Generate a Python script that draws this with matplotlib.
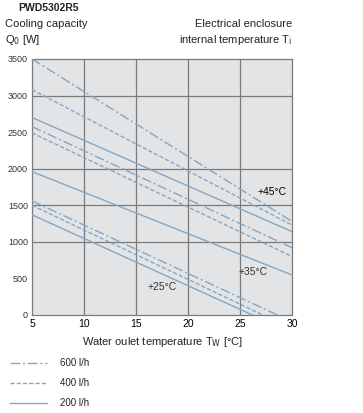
import matplotlib
matplotlib.use("Agg")
import matplotlib.pyplot as plt
import numpy as np

plt.rcParams['font.family'] = ['Liberation Sans', 'DejaVu Sans']

# Data: water outlet temperature (x) and cooling capacity (W) at endpoints
series_45 = {
    "600 l/h": ([5, 30], [3500, 1280]),
    "400 l/h": ([5, 30], [3080, 1230]),
    "200 l/h": ([5, 30], [2700, 1140]),
}
series_35 = {
    "600 l/h": ([5, 30], [2576, 920]),
    "400 l/h": ([5, 30], [2490, 800]),
    "200 l/h": ([5, 30], [1960, 547]),
}
series_25 = {
    "600 l/h": ([5, 28.6], [1560, 0]),
    "400 l/h": ([5, 27.2], [1500, 0]),
    "200 l/h": ([5, 26.2], [1370, 0]),
}
flow_labels = ["600 l/h", "400 l/h", "200 l/h"]
y_ticks = [0, 500, 1000, 1500, 2000, 2500, 3000, 3500]
x_ticks = [5, 10, 15, 20, 25, 30]
y_grid = [1000, 1500, 2000, 3000]

styles = {
    "600 l/h": dict(linestyle=(0, (7, 2, 1.5, 2))),
    "400 l/h": dict(linestyle=(0, (3, 1.5))),
    "200 l/h": dict(linestyle='-'),
}
color = '#82a8c6'

fig = plt.figure(figsize=(3.63, 4.13), dpi=100)
ax = fig.add_axes([32/363, 1-315/413, 260/363, 256/413])
ax.set_facecolor('#e3e4e6')

for grp in (series_45, series_35, series_25):
    for k in flow_labels:
        xs, ys = grp[k]
        ax.plot(xs, ys, color=color, lw=1.0, **styles[k], zorder=3)

for gx in x_ticks[1:-1]:
    ax.axvline(gx, color='#7a7a7a', lw=0.9, zorder=2)
for gy in y_grid:
    ax.axhline(gy, color='#7a7a7a', lw=0.9, zorder=2)

ax.set_xlim(5, 30)
ax.set_ylim(0, 3500)
ax.set_xticks(x_ticks)
ax.set_yticks(y_ticks)
ax.set_xticklabels([str(t) for t in x_ticks], fontsize=7.5)
ax.set_yticklabels([str(t) for t in y_ticks], fontsize=6.5, color='#333333')
ax.tick_params(length=0, pad=3)
for s in ax.spines.values():
    s.set_color('#7a7a7a')
    s.set_linewidth(0.9)

ax.text(29.5, 1680, "+45°C", fontsize=7.5, ha='right', va='center', zorder=4)
ax.text(24.9, 590, "+35°C", fontsize=7.5, ha='left', va='center', color='#333333', zorder=4)
ax.text(16.1, 380, "+25°C", fontsize=7.5, ha='left', va='center', color='#333333', zorder=4)

fig.text(18/363, 1-8/413, "PWD5302R5", fontsize=7.5, ha='left', va='center', weight='bold', color='#222222')
fig.text(5/363, 1-24/413, "Cooling capacity", fontsize=8, ha='left', va='center', color='#222222')
fig.text(5/363, 1-40/413, r"Q$_0$ [W]", fontsize=8, ha='left', va='center', color='#222222')
fig.text(292/363, 1-24/413, "Electrical enclosure", fontsize=8, ha='right', va='center', color='#222222')
fig.text(292/363, 1-40/413, r"internal temperature T$_\mathrm{i}$", fontsize=8, ha='right', va='center', color='#222222')
fig.text(162/363, 1-342/413, r"Water oulet temperature T$_\mathrm{W}$ [°C]", fontsize=8, ha='center', va='center', color='#222222')

for i, k in enumerate(flow_labels):
    yy = 1 - (363 + 20*i)/413
    fig.add_artist(plt.Line2D([10/363, 47/363], [yy, yy], color=color, lw=1.0,
                              transform=fig.transFigure, **styles[k]))
    fig.text(60/363, yy, k, fontsize=7, ha='left', va='center', color='#222222')

fig.savefig("out.png", dpi=100)
